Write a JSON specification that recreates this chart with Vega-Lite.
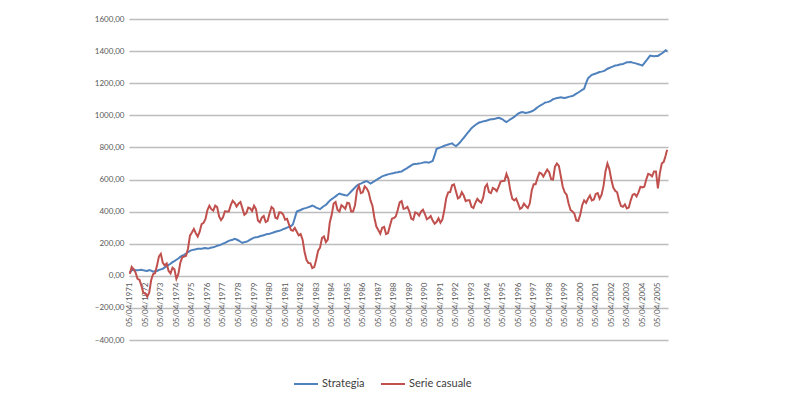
{
  "$schema": "https://vega.github.io/schema/vega-lite/v6.json",
  "width": 539,
  "height": 321,
  "autosize": {"type": "none"},
  "padding": {"left": 129, "top": 19, "right": 132, "bottom": 60},
  "background": "white",
  "config": {
    "view": {"stroke": null},
    "font": "Lato",
    "axis": {"labelFont": "Lato", "labelColor": "#595959"},
    "axisY": {"grid": true, "gridColor": "#bdbdbd", "gridWidth": 1.5, "gridOpacity": 1},
    "legend": {"labelFont": "Lato"}
  },
  "data": {
    "values": [
      {"t": 1971, "Strategia": 20, "Serie casuale": 12},
      {"t": 1971.125, "Strategia": 34, "Serie casuale": 55},
      {"t": 1971.25, "Strategia": 40, "Serie casuale": 40},
      {"t": 1971.375, "Strategia": 34, "Serie casuale": 20},
      {"t": 1971.5, "Strategia": 35, "Serie casuale": -19},
      {"t": 1971.625, "Strategia": 36, "Serie casuale": -25},
      {"t": 1971.75, "Strategia": 38, "Serie casuale": -62},
      {"t": 1971.875, "Strategia": 34, "Serie casuale": -106},
      {"t": 1972, "Strategia": 32, "Serie casuale": -110},
      {"t": 1972.125, "Strategia": 30, "Serie casuale": -130},
      {"t": 1972.25, "Strategia": 36, "Serie casuale": -106},
      {"t": 1972.375, "Strategia": 32, "Serie casuale": -28},
      {"t": 1972.5, "Strategia": 26, "Serie casuale": 10},
      {"t": 1972.625, "Strategia": 29, "Serie casuale": 16},
      {"t": 1972.75, "Strategia": 30, "Serie casuale": 62},
      {"t": 1972.875, "Strategia": 36, "Serie casuale": 120},
      {"t": 1973, "Strategia": 40, "Serie casuale": 137},
      {"t": 1973.125, "Strategia": 44, "Serie casuale": 81},
      {"t": 1973.25, "Strategia": 52, "Serie casuale": 65},
      {"t": 1973.375, "Strategia": 60, "Serie casuale": 77},
      {"t": 1973.5, "Strategia": 68, "Serie casuale": 30},
      {"t": 1973.625, "Strategia": 75, "Serie casuale": 15},
      {"t": 1973.75, "Strategia": 85, "Serie casuale": 50},
      {"t": 1973.875, "Strategia": 92, "Serie casuale": 40},
      {"t": 1974, "Strategia": 100, "Serie casuale": -19},
      {"t": 1974.125, "Strategia": 108, "Serie casuale": 10},
      {"t": 1974.25, "Strategia": 118, "Serie casuale": 80},
      {"t": 1974.375, "Strategia": 125, "Serie casuale": 115},
      {"t": 1974.5, "Strategia": 130, "Serie casuale": 120},
      {"t": 1974.625, "Strategia": 138, "Serie casuale": 125},
      {"t": 1974.75, "Strategia": 148, "Serie casuale": 170},
      {"t": 1974.875, "Strategia": 155, "Serie casuale": 250},
      {"t": 1975, "Strategia": 160, "Serie casuale": 270},
      {"t": 1975.125, "Strategia": 163, "Serie casuale": 292},
      {"t": 1975.25, "Strategia": 165, "Serie casuale": 265},
      {"t": 1975.375, "Strategia": 168, "Serie casuale": 245},
      {"t": 1975.5, "Strategia": 168, "Serie casuale": 275},
      {"t": 1975.625, "Strategia": 169, "Serie casuale": 322},
      {"t": 1975.75, "Strategia": 172, "Serie casuale": 330},
      {"t": 1975.875, "Strategia": 173, "Serie casuale": 355},
      {"t": 1976, "Strategia": 170, "Serie casuale": 410},
      {"t": 1976.125, "Strategia": 172, "Serie casuale": 437},
      {"t": 1976.25, "Strategia": 176, "Serie casuale": 415},
      {"t": 1976.375, "Strategia": 178, "Serie casuale": 406},
      {"t": 1976.5, "Strategia": 182, "Serie casuale": 437},
      {"t": 1976.625, "Strategia": 187, "Serie casuale": 428},
      {"t": 1976.75, "Strategia": 190, "Serie casuale": 370},
      {"t": 1976.875, "Strategia": 194, "Serie casuale": 347},
      {"t": 1977, "Strategia": 200, "Serie casuale": 365},
      {"t": 1977.125, "Strategia": 205, "Serie casuale": 402},
      {"t": 1977.25, "Strategia": 212, "Serie casuale": 400},
      {"t": 1977.375, "Strategia": 218, "Serie casuale": 400},
      {"t": 1977.5, "Strategia": 222, "Serie casuale": 440},
      {"t": 1977.625, "Strategia": 225, "Serie casuale": 467},
      {"t": 1977.75, "Strategia": 230, "Serie casuale": 455},
      {"t": 1977.875, "Strategia": 226, "Serie casuale": 432},
      {"t": 1978, "Strategia": 220, "Serie casuale": 450},
      {"t": 1978.125, "Strategia": 212, "Serie casuale": 460},
      {"t": 1978.25, "Strategia": 205, "Serie casuale": 420},
      {"t": 1978.375, "Strategia": 210, "Serie casuale": 380},
      {"t": 1978.5, "Strategia": 212, "Serie casuale": 390},
      {"t": 1978.625, "Strategia": 218, "Serie casuale": 425},
      {"t": 1978.75, "Strategia": 225, "Serie casuale": 420},
      {"t": 1978.875, "Strategia": 232, "Serie casuale": 403},
      {"t": 1979, "Strategia": 238, "Serie casuale": 437},
      {"t": 1979.125, "Strategia": 240, "Serie casuale": 415},
      {"t": 1979.25, "Strategia": 242, "Serie casuale": 344},
      {"t": 1979.375, "Strategia": 246, "Serie casuale": 333},
      {"t": 1979.5, "Strategia": 250, "Serie casuale": 362},
      {"t": 1979.625, "Strategia": 252, "Serie casuale": 373},
      {"t": 1979.75, "Strategia": 258, "Serie casuale": 335},
      {"t": 1979.875, "Strategia": 260, "Serie casuale": 342},
      {"t": 1980, "Strategia": 262, "Serie casuale": 390},
      {"t": 1980.125, "Strategia": 266, "Serie casuale": 429},
      {"t": 1980.25, "Strategia": 270, "Serie casuale": 418},
      {"t": 1980.375, "Strategia": 274, "Serie casuale": 362},
      {"t": 1980.5, "Strategia": 278, "Serie casuale": 356},
      {"t": 1980.625, "Strategia": 280, "Serie casuale": 395},
      {"t": 1980.75, "Strategia": 285, "Serie casuale": 394},
      {"t": 1980.875, "Strategia": 291, "Serie casuale": 382},
      {"t": 1981, "Strategia": 295, "Serie casuale": 350},
      {"t": 1981.125, "Strategia": 300, "Serie casuale": 355},
      {"t": 1981.25, "Strategia": 305, "Serie casuale": 320},
      {"t": 1981.375, "Strategia": 310, "Serie casuale": 285},
      {"t": 1981.5, "Strategia": 320, "Serie casuale": 281},
      {"t": 1981.625, "Strategia": 360, "Serie casuale": 298},
      {"t": 1981.75, "Strategia": 400, "Serie casuale": 275},
      {"t": 1981.875, "Strategia": 405, "Serie casuale": 252},
      {"t": 1982, "Strategia": 410, "Serie casuale": 260},
      {"t": 1982.125, "Strategia": 416, "Serie casuale": 225},
      {"t": 1982.25, "Strategia": 420, "Serie casuale": 150},
      {"t": 1982.375, "Strategia": 423, "Serie casuale": 100},
      {"t": 1982.5, "Strategia": 428, "Serie casuale": 80},
      {"t": 1982.625, "Strategia": 432, "Serie casuale": 79},
      {"t": 1982.75, "Strategia": 437, "Serie casuale": 48},
      {"t": 1982.875, "Strategia": 433, "Serie casuale": 54},
      {"t": 1983, "Strategia": 425, "Serie casuale": 100},
      {"t": 1983.125, "Strategia": 420, "Serie casuale": 157},
      {"t": 1983.25, "Strategia": 415, "Serie casuale": 175},
      {"t": 1983.375, "Strategia": 425, "Serie casuale": 235},
      {"t": 1983.5, "Strategia": 435, "Serie casuale": 245},
      {"t": 1983.625, "Strategia": 442, "Serie casuale": 210},
      {"t": 1983.75, "Strategia": 455, "Serie casuale": 225},
      {"t": 1983.875, "Strategia": 468, "Serie casuale": 332},
      {"t": 1984, "Strategia": 478, "Serie casuale": 380},
      {"t": 1984.125, "Strategia": 486, "Serie casuale": 450},
      {"t": 1984.25, "Strategia": 495, "Serie casuale": 460},
      {"t": 1984.375, "Strategia": 505, "Serie casuale": 410},
      {"t": 1984.5, "Strategia": 512, "Serie casuale": 400},
      {"t": 1984.625, "Strategia": 508, "Serie casuale": 440},
      {"t": 1984.75, "Strategia": 505, "Serie casuale": 430},
      {"t": 1984.875, "Strategia": 502, "Serie casuale": 417},
      {"t": 1985, "Strategia": 500, "Serie casuale": 455},
      {"t": 1985.125, "Strategia": 512, "Serie casuale": 452},
      {"t": 1985.25, "Strategia": 525, "Serie casuale": 400},
      {"t": 1985.375, "Strategia": 538, "Serie casuale": 400},
      {"t": 1985.5, "Strategia": 550, "Serie casuale": 440},
      {"t": 1985.625, "Strategia": 562, "Serie casuale": 530},
      {"t": 1985.75, "Strategia": 570, "Serie casuale": 560},
      {"t": 1985.875, "Strategia": 574, "Serie casuale": 515},
      {"t": 1986, "Strategia": 580, "Serie casuale": 520},
      {"t": 1986.125, "Strategia": 586, "Serie casuale": 557},
      {"t": 1986.25, "Strategia": 590, "Serie casuale": 545},
      {"t": 1986.375, "Strategia": 583, "Serie casuale": 522},
      {"t": 1986.5, "Strategia": 575, "Serie casuale": 470},
      {"t": 1986.625, "Strategia": 582, "Serie casuale": 435},
      {"t": 1986.75, "Strategia": 590, "Serie casuale": 360},
      {"t": 1986.875, "Strategia": 597, "Serie casuale": 307},
      {"t": 1987, "Strategia": 605, "Serie casuale": 285},
      {"t": 1987.125, "Strategia": 612, "Serie casuale": 262},
      {"t": 1987.25, "Strategia": 620, "Serie casuale": 300},
      {"t": 1987.375, "Strategia": 624, "Serie casuale": 305},
      {"t": 1987.5, "Strategia": 628, "Serie casuale": 260},
      {"t": 1987.625, "Strategia": 632, "Serie casuale": 266},
      {"t": 1987.75, "Strategia": 635, "Serie casuale": 312},
      {"t": 1987.875, "Strategia": 638, "Serie casuale": 356},
      {"t": 1988, "Strategia": 640, "Serie casuale": 360},
      {"t": 1988.125, "Strategia": 643, "Serie casuale": 370},
      {"t": 1988.25, "Strategia": 645, "Serie casuale": 410},
      {"t": 1988.375, "Strategia": 648, "Serie casuale": 457},
      {"t": 1988.5, "Strategia": 650, "Serie casuale": 465},
      {"t": 1988.625, "Strategia": 658, "Serie casuale": 417},
      {"t": 1988.75, "Strategia": 665, "Serie casuale": 420},
      {"t": 1988.875, "Strategia": 672, "Serie casuale": 430},
      {"t": 1989, "Strategia": 680, "Serie casuale": 400},
      {"t": 1989.125, "Strategia": 688, "Serie casuale": 355},
      {"t": 1989.25, "Strategia": 695, "Serie casuale": 350},
      {"t": 1989.375, "Strategia": 697, "Serie casuale": 395},
      {"t": 1989.5, "Strategia": 698, "Serie casuale": 390},
      {"t": 1989.625, "Strategia": 700, "Serie casuale": 375},
      {"t": 1989.75, "Strategia": 702, "Serie casuale": 400},
      {"t": 1989.875, "Strategia": 705, "Serie casuale": 412},
      {"t": 1990, "Strategia": 708, "Serie casuale": 385},
      {"t": 1990.125, "Strategia": 707, "Serie casuale": 352},
      {"t": 1990.25, "Strategia": 705, "Serie casuale": 360},
      {"t": 1990.375, "Strategia": 710, "Serie casuale": 372},
      {"t": 1990.5, "Strategia": 715, "Serie casuale": 344},
      {"t": 1990.625, "Strategia": 750, "Serie casuale": 325},
      {"t": 1990.75, "Strategia": 790, "Serie casuale": 335},
      {"t": 1990.875, "Strategia": 796, "Serie casuale": 358},
      {"t": 1991, "Strategia": 800, "Serie casuale": 331},
      {"t": 1991.125, "Strategia": 805, "Serie casuale": 350},
      {"t": 1991.25, "Strategia": 810, "Serie casuale": 410},
      {"t": 1991.375, "Strategia": 814, "Serie casuale": 485},
      {"t": 1991.5, "Strategia": 818, "Serie casuale": 520},
      {"t": 1991.625, "Strategia": 822, "Serie casuale": 522},
      {"t": 1991.75, "Strategia": 825, "Serie casuale": 565},
      {"t": 1991.875, "Strategia": 815, "Serie casuale": 570},
      {"t": 1992, "Strategia": 808, "Serie casuale": 525},
      {"t": 1992.125, "Strategia": 818, "Serie casuale": 482},
      {"t": 1992.25, "Strategia": 830, "Serie casuale": 490},
      {"t": 1992.375, "Strategia": 845, "Serie casuale": 520},
      {"t": 1992.5, "Strategia": 860, "Serie casuale": 500},
      {"t": 1992.625, "Strategia": 875, "Serie casuale": 465},
      {"t": 1992.75, "Strategia": 890, "Serie casuale": 470},
      {"t": 1992.875, "Strategia": 905, "Serie casuale": 470},
      {"t": 1993, "Strategia": 920, "Serie casuale": 430},
      {"t": 1993.125, "Strategia": 930, "Serie casuale": 422},
      {"t": 1993.25, "Strategia": 940, "Serie casuale": 455},
      {"t": 1993.375, "Strategia": 948, "Serie casuale": 480},
      {"t": 1993.5, "Strategia": 955, "Serie casuale": 465},
      {"t": 1993.625, "Strategia": 958, "Serie casuale": 456},
      {"t": 1993.75, "Strategia": 962, "Serie casuale": 487},
      {"t": 1993.875, "Strategia": 965, "Serie casuale": 553},
      {"t": 1994, "Strategia": 968, "Serie casuale": 570},
      {"t": 1994.125, "Strategia": 972, "Serie casuale": 522},
      {"t": 1994.25, "Strategia": 975, "Serie casuale": 515},
      {"t": 1994.375, "Strategia": 976, "Serie casuale": 547},
      {"t": 1994.5, "Strategia": 978, "Serie casuale": 540},
      {"t": 1994.625, "Strategia": 982, "Serie casuale": 527},
      {"t": 1994.75, "Strategia": 985, "Serie casuale": 555},
      {"t": 1994.875, "Strategia": 980, "Serie casuale": 587},
      {"t": 1995, "Strategia": 975, "Serie casuale": 590},
      {"t": 1995.125, "Strategia": 965, "Serie casuale": 592},
      {"t": 1995.25, "Strategia": 958, "Serie casuale": 635},
      {"t": 1995.375, "Strategia": 966, "Serie casuale": 603},
      {"t": 1995.5, "Strategia": 975, "Serie casuale": 531},
      {"t": 1995.625, "Strategia": 982, "Serie casuale": 480},
      {"t": 1995.75, "Strategia": 990, "Serie casuale": 470},
      {"t": 1995.875, "Strategia": 1000, "Serie casuale": 480},
      {"t": 1996, "Strategia": 1010, "Serie casuale": 450},
      {"t": 1996.125, "Strategia": 1016, "Serie casuale": 417},
      {"t": 1996.25, "Strategia": 1020, "Serie casuale": 425},
      {"t": 1996.375, "Strategia": 1018, "Serie casuale": 450},
      {"t": 1996.5, "Strategia": 1015, "Serie casuale": 435},
      {"t": 1996.625, "Strategia": 1017, "Serie casuale": 422},
      {"t": 1996.75, "Strategia": 1020, "Serie casuale": 450},
      {"t": 1996.875, "Strategia": 1025, "Serie casuale": 530},
      {"t": 1997, "Strategia": 1030, "Serie casuale": 570},
      {"t": 1997.125, "Strategia": 1040, "Serie casuale": 570},
      {"t": 1997.25, "Strategia": 1050, "Serie casuale": 610},
      {"t": 1997.375, "Strategia": 1058, "Serie casuale": 643},
      {"t": 1997.5, "Strategia": 1065, "Serie casuale": 637},
      {"t": 1997.625, "Strategia": 1072, "Serie casuale": 618},
      {"t": 1997.75, "Strategia": 1080, "Serie casuale": 640},
      {"t": 1997.875, "Strategia": 1082, "Serie casuale": 662},
      {"t": 1998, "Strategia": 1085, "Serie casuale": 645},
      {"t": 1998.125, "Strategia": 1092, "Serie casuale": 602},
      {"t": 1998.25, "Strategia": 1100, "Serie casuale": 600},
      {"t": 1998.375, "Strategia": 1104, "Serie casuale": 680},
      {"t": 1998.5, "Strategia": 1108, "Serie casuale": 700},
      {"t": 1998.625, "Strategia": 1110, "Serie casuale": 685},
      {"t": 1998.75, "Strategia": 1112, "Serie casuale": 620},
      {"t": 1998.875, "Strategia": 1110, "Serie casuale": 555},
      {"t": 1999, "Strategia": 1108, "Serie casuale": 520},
      {"t": 1999.125, "Strategia": 1111, "Serie casuale": 505},
      {"t": 1999.25, "Strategia": 1115, "Serie casuale": 450},
      {"t": 1999.375, "Strategia": 1118, "Serie casuale": 410},
      {"t": 1999.5, "Strategia": 1120, "Serie casuale": 400},
      {"t": 1999.625, "Strategia": 1127, "Serie casuale": 387},
      {"t": 1999.75, "Strategia": 1135, "Serie casuale": 344},
      {"t": 1999.875, "Strategia": 1142, "Serie casuale": 342},
      {"t": 2000, "Strategia": 1150, "Serie casuale": 380},
      {"t": 2000.125, "Strategia": 1158, "Serie casuale": 440},
      {"t": 2000.25, "Strategia": 1165, "Serie casuale": 470},
      {"t": 2000.375, "Strategia": 1200, "Serie casuale": 455},
      {"t": 2000.5, "Strategia": 1230, "Serie casuale": 480},
      {"t": 2000.625, "Strategia": 1242, "Serie casuale": 500},
      {"t": 2000.75, "Strategia": 1252, "Serie casuale": 470},
      {"t": 2000.875, "Strategia": 1256, "Serie casuale": 475},
      {"t": 2001, "Strategia": 1260, "Serie casuale": 510},
      {"t": 2001.125, "Strategia": 1265, "Serie casuale": 515},
      {"t": 2001.25, "Strategia": 1270, "Serie casuale": 480},
      {"t": 2001.375, "Strategia": 1272, "Serie casuale": 505},
      {"t": 2001.5, "Strategia": 1275, "Serie casuale": 560},
      {"t": 2001.625, "Strategia": 1282, "Serie casuale": 650},
      {"t": 2001.75, "Strategia": 1290, "Serie casuale": 700},
      {"t": 2001.875, "Strategia": 1295, "Serie casuale": 665},
      {"t": 2002, "Strategia": 1300, "Serie casuale": 600},
      {"t": 2002.125, "Strategia": 1305, "Serie casuale": 550},
      {"t": 2002.25, "Strategia": 1310, "Serie casuale": 530},
      {"t": 2002.375, "Strategia": 1312, "Serie casuale": 520},
      {"t": 2002.5, "Strategia": 1315, "Serie casuale": 470},
      {"t": 2002.625, "Strategia": 1318, "Serie casuale": 435},
      {"t": 2002.75, "Strategia": 1320, "Serie casuale": 430},
      {"t": 2002.875, "Strategia": 1325, "Serie casuale": 445},
      {"t": 2003, "Strategia": 1330, "Serie casuale": 420},
      {"t": 2003.125, "Strategia": 1331, "Serie casuale": 425},
      {"t": 2003.25, "Strategia": 1332, "Serie casuale": 470},
      {"t": 2003.375, "Strategia": 1328, "Serie casuale": 505},
      {"t": 2003.5, "Strategia": 1325, "Serie casuale": 510},
      {"t": 2003.625, "Strategia": 1322, "Serie casuale": 495},
      {"t": 2003.75, "Strategia": 1318, "Serie casuale": 520},
      {"t": 2003.875, "Strategia": 1314, "Serie casuale": 555},
      {"t": 2004, "Strategia": 1310, "Serie casuale": 550},
      {"t": 2004.125, "Strategia": 1325, "Serie casuale": 555},
      {"t": 2004.25, "Strategia": 1340, "Serie casuale": 600},
      {"t": 2004.375, "Strategia": 1356, "Serie casuale": 635},
      {"t": 2004.5, "Strategia": 1372, "Serie casuale": 630},
      {"t": 2004.625, "Strategia": 1370, "Serie casuale": 620},
      {"t": 2004.75, "Strategia": 1368, "Serie casuale": 650},
      {"t": 2004.875, "Strategia": 1369, "Serie casuale": 650},
      {"t": 2005, "Strategia": 1370, "Serie casuale": 545},
      {"t": 2005.125, "Strategia": 1378, "Serie casuale": 640},
      {"t": 2005.25, "Strategia": 1385, "Serie casuale": 700},
      {"t": 2005.375, "Strategia": 1395, "Serie casuale": 710},
      {"t": 2005.5, "Strategia": 1405, "Serie casuale": 750},
      {"t": 2005.55, "Strategia": 1402, "Serie casuale": 770},
      {"t": 2005.6, "Strategia": 1398, "Serie casuale": 785}
    ]
  },
  "transform": [
    {"fold": ["Strategia", "Serie casuale"], "as": ["serie", "valore"]}
  ],
  "mark": {"type": "line", "strokeWidth": 2, "interpolate": "linear"},
  "encoding": {
    "x": {
      "field": "t",
      "type": "quantitative",
      "scale": {"domain": [1970.95, 2005.65], "nice": false, "zero": false},
      "axis": {
        "title": null,
        "values": [1971,1972,1973,1974,1975,1976,1977,1978,1979,1980,1981,1982,1983,1984,1985,1986,1987,1988,1989,1990,1991,1992,1993,1994,1995,1996,1997,1998,1999,2000,2001,2002,2003,2004,2005],
        "labelExpr": "'05/04/' + datum.value",
        "labelAngle": -90,
        "labelAlign": "right",
        "labelBaseline": "middle",
        "labelFontSize": 8,
        "labelPadding": 6,
        "labelOverlap": false,
        "labelFlush": false,
        "ticks": false,
        "domain": false,
        "grid": false,
        "offset": -64
      }
    },
    "y": {
      "field": "valore",
      "type": "quantitative",
      "scale": {"domain": [-400, 1600], "nice": false, "zero": false},
      "axis": {
        "title": null,
        "values": [-400, -200, 0, 200, 400, 600, 800, 1000, 1200, 1400, 1600],
        "labelExpr": "replace(format(datum.value, '.2f'), '.', ',')",
        "labelFontSize": 8,
        "labelPadding": 5,
        "ticks": false,
        "domain": false,
        "grid": true
      }
    },
    "color": {
      "field": "serie",
      "type": "nominal",
      "sort": ["Strategia", "Serie casuale"],
      "scale": {"domain": ["Strategia", "Serie casuale"], "range": ["#4F81BD", "#C0504D"]},
      "legend": {
        "title": null,
        "orient": "none",
        "direction": "horizontal",
        "legendX": 164,
        "legendY": 352,
        "padding": 0,
        "symbolType": "stroke",
        "symbolSize": 576,
        "symbolStrokeWidth": 2,
        "labelFontSize": 11,
        "labelColor": "#404040",
        "labelOffset": 3,
        "columnPadding": 12
      }
    }
  }
}
